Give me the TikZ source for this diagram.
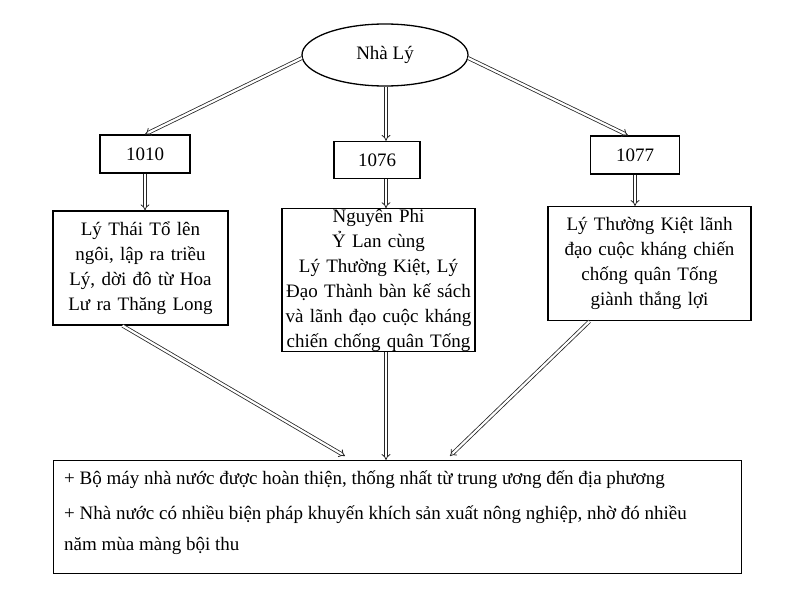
\documentclass[tikz,border=0pt]{standalone}
\usepackage{fontspec}
\setmainfont{Liberation Serif}
\usetikzlibrary{shapes.geometric,arrows.meta}
\begin{document}
\begin{tikzpicture}[x=1pt,y=-1pt,
 box/.style={draw,line width=1.3pt,inner sep=0pt,align=center,font=\fontsize{19}{25}\selectfont},
 dar/.style={draw=black!85,double=white,double distance=2.2pt,line width=0.8pt,-{Implies[length=4pt]}}]
\useasboundingbox (0,0) rectangle (794,594);
\node[box,ellipse,minimum width=166pt,minimum height=62pt] (ly) at (385,55) {Nhà Lý};
\node[box,minimum width=90pt,minimum height=38pt] (a) at (145,154) {1010};
\node[box,minimum width=86pt,minimum height=37pt] (b) at (377,160) {1076};
\node[box,minimum width=89pt,minimum height=38pt] (c) at (635,155) {1077};
\node[box,minimum width=175pt,minimum height=114pt,text width=172pt] (la) at (140.5,268) {Lý Thái Tổ lên\\ngôi, lập ra triều\\Lý, dời đô từ Hoa\\Lư ra Thăng Long};
\node[box,minimum width=193pt,minimum height=140pt,text width=191pt] (lb) at (378.5,280) {Nguyên Phi Ỷ Lan cùng\\Lý Thường Kiệt, Lý\\Đạo Thành bàn kế sách\\và lãnh đạo cuộc kháng\\chiến chống quân Tống};
\node[box,minimum width=203pt,minimum height=114pt,text width=200pt,anchor=north] (lc) at (649.5,206) {Lý Thường Kiệt lãnh\\đạo cuộc kháng chiến\\chống quân Tống\\giành thắng lợi};
\node[draw,line width=1.3pt,minimum width=688pt,minimum height=113pt,anchor=north west] (res) at (53,460) {};
\node[anchor=west,inner sep=0pt,font=\fontsize{19}{25}\selectfont] (t1) at (64,480) {+ Bộ máy nhà nước được hoàn thiện, thống nhất từ trung ương đến địa phương};
\node[anchor=north west,inner sep=0pt,align=left,font=\fontsize{19}{31}\selectfont] (t2) at (64,506) {+ Nhà nước có nhiều biện pháp khuyến khích sản xuất nông nghiệp, nhờ đó nhiều\\năm mùa màng bội thu};
\coordinate (ly1) at (302,58); \coordinate (ly2) at (468,58);
\coordinate (mx) at (386,0);
\draw[dar] (ly1) -- (a.north);
\draw[dar] (ly.south -| mx) -- (b.north -| mx);
\draw[dar] (ly2) -- ([xshift=-7pt]c.north);
\draw[dar] (a) -- (a |- la.north);
\draw[dar] (b.south -| mx) -- (lb.north -| mx);
\draw[dar] (c) -- (c |- lc.north);
\coordinate (e1) at (345,456); \coordinate (e3) at (450,456);
\draw[dar] ([xshift=-18pt]la.south) -- (e1);
\draw[dar] (lb.south -| mx) -- (res.north -| mx);
\draw[dar] ([xshift=-60pt]lc.south) -- (e3);
\end{tikzpicture}
\end{document}
